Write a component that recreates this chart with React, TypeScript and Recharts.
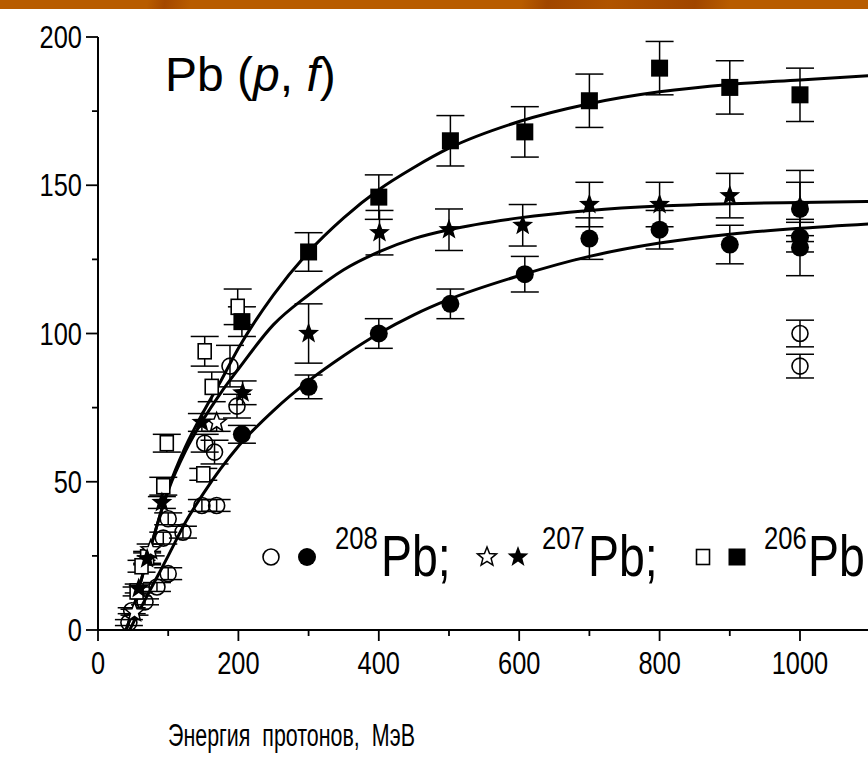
import React from 'react';
import { ComposedChart, Line, Scatter, XAxis, YAxis, ErrorBar } from 'recharts';

// ---- data (energy MeV, cross-section mb, error) ----
const energyTicks = [0, 100, 200, 300, 400, 500, 600, 700, 800, 900, 1000, 1100];
const energyLabels = [0, 200, 400, 600, 800, 1000];
const sigmaTicks = [0, 25, 50, 75, 100, 125, 150, 175, 200];
const sigmaLabels = [0, 50, 100, 150, 200];

const pb206Filled = [
  { x: 205, y: 104, e: 5 }, { x: 300, y: 127.5, e: 6.5 }, { x: 400, y: 146, e: 7.5 },
  { x: 502, y: 165, e: 8.5 }, { x: 608, y: 168, e: 8.5 }, { x: 700, y: 178.5, e: 9 },
  { x: 800, y: 189.5, e: 9 }, { x: 900, y: 183, e: 9 }, { x: 1000, y: 180.5, e: 9 },
];
const pb206Open = [
  { x: 199, y: 109, e: 6 }, { x: 152, y: 94, e: 5 }, { x: 162, y: 82, e: 5 },
  { x: 98, y: 63, e: 3 }, { x: 150, y: 52.5, e: 2 }, { x: 93, y: 48.5, e: 3 },
  { x: 70, y: 24.5, e: 2 }, { x: 62, y: 21.5, e: 2 }, { x: 55, y: 13, e: 1.5 },
];
const pb207Filled = [
  { x: 58, y: 14, e: 1.5 }, { x: 70, y: 24, e: 2 }, { x: 91, y: 43, e: 2 },
  { x: 148, y: 70, e: 3 }, { x: 206, y: 80, e: 4 }, { x: 300, y: 100, e: 10 },
  { x: 401, y: 134, e: 7.5 }, { x: 500, y: 135, e: 7 }, { x: 605, y: 136.5, e: 7 },
  { x: 700, y: 143.5, e: 7.5 }, { x: 800, y: 143.5, e: 7.5 }, { x: 900, y: 146.5, e: 7.5 },
  { x: 1000, y: 143, e: 12 },
];
const pb207Open = [
  { x: 169, y: 70, e: 3 }, { x: 75, y: 27, e: 2 }, { x: 52, y: 6, e: 1 },
];
const pb208Filled = [
  { x: 205, y: 66, e: 3 }, { x: 300, y: 82, e: 4 }, { x: 400, y: 100, e: 5 },
  { x: 502, y: 110, e: 5 }, { x: 608, y: 120, e: 6 }, { x: 700, y: 132, e: 7 },
  { x: 800, y: 135, e: 6.5 }, { x: 900, y: 130, e: 6.5 }, { x: 1000, y: 142, e: 9 },
  { x: 1000, y: 132.5, e: 5 }, { x: 1000, y: 129, e: 9.5 },
];
const pb208Open = [
  { x: 188, y: 89, e: 7 }, { x: 198, y: 75.5, e: 4 }, { x: 152, y: 63, e: 3 },
  { x: 166, y: 60, e: 4 }, { x: 148, y: 42, e: 2 }, { x: 169, y: 42, e: 2 },
  { x: 121, y: 33, e: 2 }, { x: 100, y: 37.5, e: 2 }, { x: 93, y: 31, e: 2 },
  { x: 100, y: 19, e: 2 }, { x: 84, y: 14.5, e: 1.5 }, { x: 67, y: 9.5, e: 1 },
  { x: 48, y: 6.5, e: 1 }, { x: 44, y: 2.5, e: 1 }, { x: 1000, y: 100, e: 4.5 },
  { x: 1000, y: 89, e: 4 },
];

// fitted curves
const fit206 = [
  { x: 40, y: 0 }, { x: 50, y: 7 }, { x: 60, y: 15.5 }, { x: 70, y: 24 }, { x: 80, y: 32 },
  { x: 90, y: 40 }, { x: 100, y: 47.5 }, { x: 125, y: 62 }, { x: 150, y: 73.5 }, { x: 175, y: 84 },
  { x: 200, y: 95 }, { x: 250, y: 113 }, { x: 300, y: 127.5 }, { x: 350, y: 139 }, { x: 400, y: 148.5 },
  { x: 450, y: 156 }, { x: 500, y: 162.5 }, { x: 600, y: 171.5 }, { x: 700, y: 177.5 },
  { x: 800, y: 181.5 }, { x: 900, y: 184 }, { x: 1000, y: 185.5 }, { x: 1100, y: 187 },
];
const fit207 = [
  { x: 40, y: 0 }, { x: 50, y: 7 }, { x: 60, y: 15.5 }, { x: 70, y: 24 }, { x: 80, y: 32 },
  { x: 90, y: 40 }, { x: 100, y: 47 }, { x: 125, y: 60.5 }, { x: 150, y: 71 }, { x: 175, y: 80 },
  { x: 200, y: 88 }, { x: 250, y: 103 }, { x: 300, y: 113 }, { x: 350, y: 121.5 }, { x: 400, y: 127.5 },
  { x: 450, y: 132 }, { x: 500, y: 135 }, { x: 600, y: 139 }, { x: 700, y: 141.5 },
  { x: 800, y: 143 }, { x: 900, y: 143.8 }, { x: 1000, y: 144.2 }, { x: 1100, y: 144.5 },
];
const fit208 = [
  { x: 45, y: 0 }, { x: 60, y: 7 }, { x: 80, y: 16 }, { x: 100, y: 25 }, { x: 125, y: 36.5 },
  { x: 150, y: 46 }, { x: 175, y: 54.5 }, { x: 200, y: 62 }, { x: 250, y: 74 }, { x: 300, y: 84 },
  { x: 350, y: 92.5 }, { x: 400, y: 100 }, { x: 450, y: 106.3 }, { x: 500, y: 111.5 },
  { x: 600, y: 119.5 }, { x: 700, y: 126 }, { x: 800, y: 130.5 }, { x: 900, y: 133.5 },
  { x: 1000, y: 135.5 }, { x: 1100, y: 137 },
];

// ---- layout ----
const W = 868;
const H = 760;
const PLOT_LEFT = 98;
const PLOT_TOP = 37;
const PLOT_BOTTOM = 630;
const X_MAX = 1100;
const PX_PER_UNIT = 0.702;
const PLOT_W = X_MAX * PX_PER_UNIT;
const RIGHT_M = 10;
const CHART_W = PLOT_LEFT + PLOT_W + RIGHT_M;
const SANS = "'Liberation Sans', Arial, sans-serif";

function starPath(cx: number, cy: number, R: number, r: number) {
  let d = '';
  for (let i = 0; i < 10; i++) {
    const a = -Math.PI / 2 + (i * Math.PI) / 5;
    const rad = i % 2 === 0 ? R : r;
    d += (i === 0 ? 'M' : 'L') + (cx + rad * Math.cos(a)).toFixed(2) + ',' + (cy + rad * Math.sin(a)).toFixed(2);
  }
  return d + 'Z';
}

const FilledSquare = (p: any) => <rect x={p.cx - 8.5} y={p.cy - 8.5} width={17} height={17} fill="#000" />;
const OpenSquare = (p: any) => (
  <rect x={p.cx - 6.5} y={p.cy - 7.5} width={13} height={15} fill="#fff" stroke="#000" strokeWidth={1.6} />
);
const FilledCircle = (p: any) => <circle cx={p.cx} cy={p.cy} r={9} fill="#000" />;
const OpenCircle = (p: any) => <circle cx={p.cx} cy={p.cy} r={8} fill="none" stroke="#000" strokeWidth={1.6} />;
const FilledStar = (p: any) => <path d={starPath(p.cx, p.cy, 11, 4.6)} fill="#000" />;
const OpenStar = (p: any) => <path d={starPath(p.cx, p.cy, 10, 4.3)} fill="#fff" stroke="#000" strokeWidth={1.5} />;

// condensed text (no narrow font installed): horizontally scaled Liberation Sans
const NText = (p: { x: number; y: number; size: number; anchor?: string; sx?: number; children: any }) => (
  <text
    transform={`translate(${p.x},${p.y}) scale(${p.sx ?? 0.82},1)`}
    fontFamily={SANS}
    fontSize={p.size}
    textAnchor={p.anchor ?? 'start'}
    fill="#000"
  >
    {p.children}
  </text>
);

const XTick = (props: any) => {
  const { x, y, payload } = props;
  const v = payload.value;
  const major = energyLabels.includes(v);
  return (
    <g>
      <line x1={x} y1={y} x2={x} y2={y + (major ? 11 : 6)} stroke="#000" strokeWidth={1.8} />
      {major && <NText x={x} y={y + 44} size={31} anchor="middle">{v}</NText>}
    </g>
  );
};

const YTick = (props: any) => {
  const { x, y, payload } = props;
  const v = payload.value;
  const major = sigmaLabels.includes(v);
  return (
    <g>
      <line x1={x - (major ? 12 : 6)} y1={y} x2={x} y2={y} stroke="#000" strokeWidth={1.8} />
      {major && <NText x={x - 16} y={y + 11} size={31} anchor="end">{v}</NText>}
    </g>
  );
};

const errProps = { dataKey: 'e', direction: 'y' as const, width: 14, stroke: '#000', strokeWidth: 1.5 };

export default function App() {
  return (
    <div style={{ position: 'absolute', left: 0, top: 0, width: W, height: H, overflow: 'hidden', background: '#fff' }}>
      <div
        style={{
          position: 'absolute', left: 0, top: 0, width: W, height: 9, zIndex: 2,
          background:
            'linear-gradient(100deg, #b85c00 0%, #b85c00 17%, #a44800 19%, #b85c00 22%, #b85c00 60%, #a04600 63%, #b05400 70%, #a04600 80%, #b85c00 84%, #b85c00 100%)',
        }}
      />
      <ComposedChart
        width={CHART_W}
        height={H}
        margin={{ top: PLOT_TOP, right: RIGHT_M, left: 0, bottom: 0 }}
      >
        <XAxis
          type="number"
          dataKey="x"
          domain={[0, X_MAX]}
          ticks={energyTicks}
          interval={0}
          tickSize={0}
          tickMargin={0}
          tick={<XTick />}
          axisLine={{ stroke: '#000', strokeWidth: 2 }}
          height={H - PLOT_BOTTOM}
          allowDataOverflow
        />
        <YAxis
          type="number"
          domain={[0, 200]}
          ticks={sigmaTicks}
          interval={0}
          tickSize={0}
          tickMargin={0}
          tick={<YTick />}
          axisLine={{ stroke: '#000', strokeWidth: 2 }}
          width={PLOT_LEFT}
          allowDataOverflow
        />
        <Line data={fit206} dataKey="y" type="monotone" stroke="#000" strokeWidth={3} dot={false} isAnimationActive={false} />
        <Line data={fit207} dataKey="y" type="monotone" stroke="#000" strokeWidth={3} dot={false} isAnimationActive={false} />
        <Line data={fit208} dataKey="y" type="monotone" stroke="#000" strokeWidth={3} dot={false} isAnimationActive={false} />
        <Scatter data={pb208Open} dataKey="y" shape={OpenCircle} isAnimationActive={false}>
          <ErrorBar {...errProps} />
        </Scatter>
        <Scatter data={pb206Open} dataKey="y" shape={OpenSquare} isAnimationActive={false}>
          <ErrorBar {...errProps} />
        </Scatter>
        <Scatter data={pb207Open} dataKey="y" shape={OpenStar} isAnimationActive={false}>
          <ErrorBar {...errProps} />
        </Scatter>
        <Scatter data={pb207Filled} dataKey="y" shape={FilledStar} isAnimationActive={false}>
          <ErrorBar {...errProps} />
        </Scatter>
        <Scatter data={pb208Filled} dataKey="y" shape={FilledCircle} isAnimationActive={false}>
          <ErrorBar {...errProps} />
        </Scatter>
        <Scatter data={pb206Filled} dataKey="y" shape={FilledSquare} isAnimationActive={false}>
          <ErrorBar {...errProps} />
        </Scatter>
      </ComposedChart>
      <svg
        width={W}
        height={H}
        style={{ position: 'absolute', left: 0, top: 0, pointerEvents: 'none' }}
      >
        <text x={165} y={91} fontFamily={SANS} fontSize={48} fill="#000">
          Pb (<tspan fontStyle="italic">p</tspan>, <tspan fontStyle="italic">f</tspan>)
        </text>
        {/* legend */}
        <OpenCircle cx={271} cy={557} />
        <FilledCircle cx={307} cy={557} />
        <NText x={335} y={549} size={32} sx={0.8}>208</NText>
        <NText x={381} y={576} size={58} sx={0.8}>Pb;</NText>
        <OpenStar cx={487} cy={557} />
        <FilledStar cx={518} cy={557} />
        <NText x={542} y={549} size={32} sx={0.8}>207</NText>
        <NText x={588} y={576} size={58} sx={0.8}>Pb;</NText>
        <OpenSquare cx={703} cy={557} />
        <FilledSquare cx={737} cy={557} />
        <NText x={764} y={549} size={32} sx={0.8}>206</NText>
        <NText x={808} y={576} size={58} sx={0.8}>Pb</NText>
        <text
          x={168}
          y={746}
          fontFamily={SANS}
          fontSize={31}
          fill="#000"
          textLength={247}
          lengthAdjust="spacingAndGlyphs"
          style={{ whiteSpace: 'pre' }}
        >
          Энергия  протонов,  МэВ
        </text>
      </svg>
    </div>
  );
}
